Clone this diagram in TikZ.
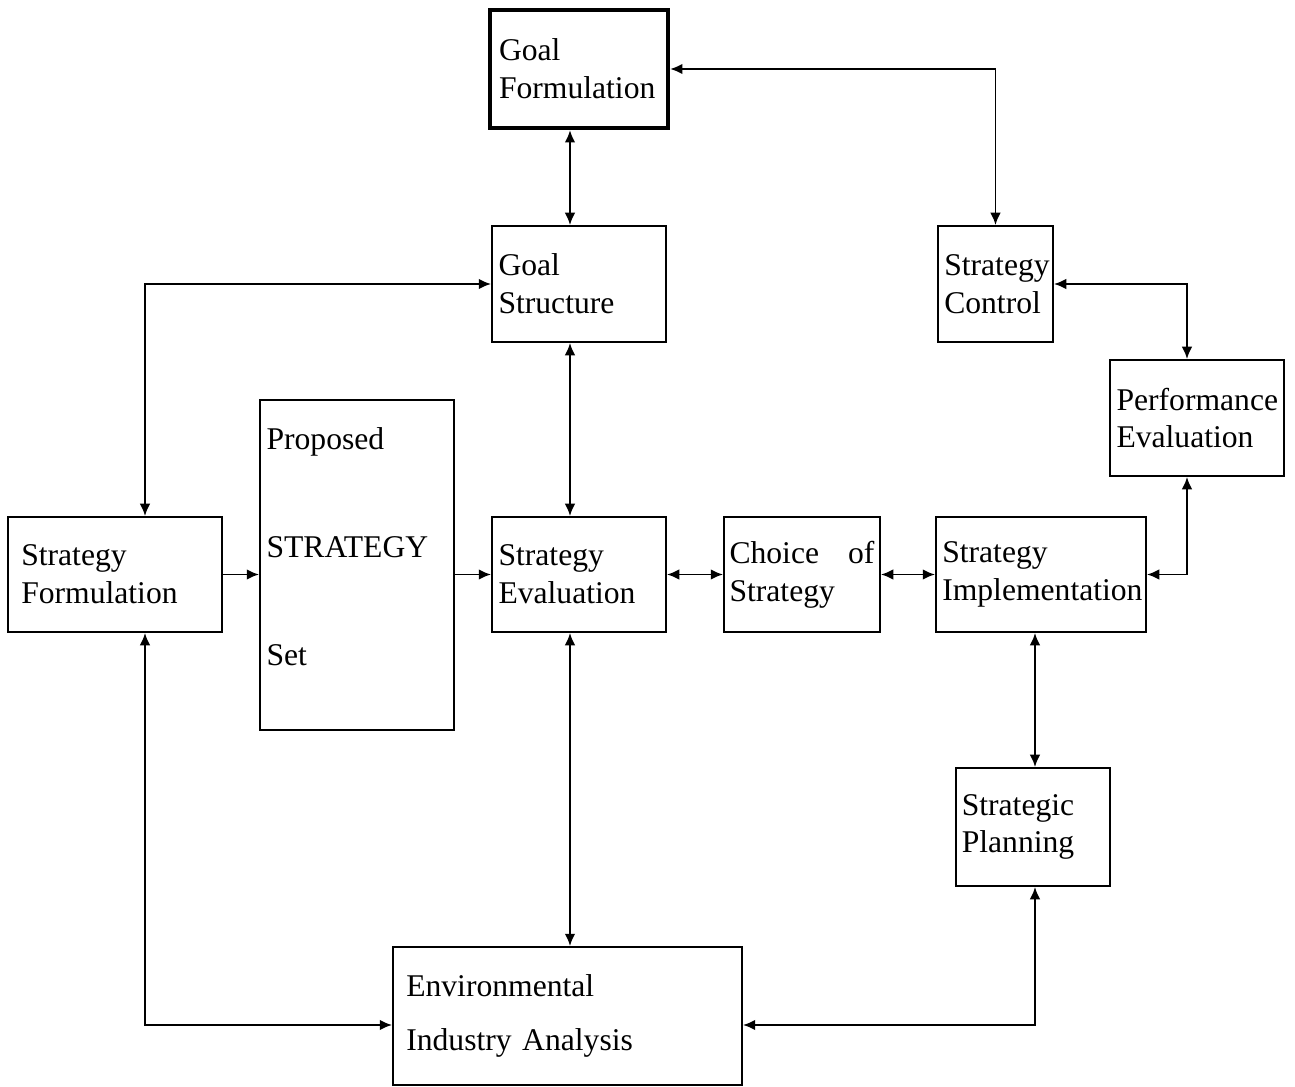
\documentclass[tikz,border=0pt]{standalone}
\usepackage{fontspec}
\setmainfont{Liberation Serif}
\usetikzlibrary{arrows.meta}
\tikzset{
	box/.style={draw,line width=1.1pt,inner xsep=3pt,align=left,font=\fontsize{18}{21.5}\selectfont},
	link/.style={line width=1.1pt,arrows={-Latex[length=7pt,width=6pt]}},
	both/.style={line width=1.1pt,arrows={Latex[length=7pt,width=6pt]-Latex[length=7pt,width=6pt]}}
}
\begin{document}
\begin{tikzpicture}[x=0.02cm,y=-0.02cm]
				\useasboundingbox (0,0) rectangle (1295,1087);
				% Boxes
				\node[box,line width=2.4pt,inner xsep=5pt,minimum width=3.56cm,minimum height=2.36cm,text width=3.2cm] (gf) at (579,69) {Goal\\Formulation};
				\node[box,minimum width=3.48cm,minimum height=2.32cm,text width=3.22cm] (gs) at (579,284) {Goal\\Structure};
				\node[box,minimum width=2.3cm,minimum height=2.32cm,text width=2.05cm] (sc) at (995.5,284) {Strategy\\Control};
				\node[box,minimum width=3.48cm,minimum height=2.32cm,text width=3.22cm] (pe) at (1197,418) {Performance\\Evaluation};
				\node[box,minimum width=3.88cm,minimum height=6.6cm,text width=3.62cm] (ps) at (357,565) {Proposed\\[40pt]STRATEGY\\[40pt]Set\\\mbox{}};
				\node[box,inner xsep=7pt,minimum width=4.28cm,minimum height=2.3cm,text width=3.75cm] (sf) at (115,574.5) {Strategy\\Formulation};
				\node[box,minimum width=3.48cm,minimum height=2.3cm,text width=3.22cm] (se) at (579,574.5) {Strategy\\Evaluation};
				\node[box,minimum width=3.12cm,minimum height=2.3cm,text width=2.9cm] (cs) at (802,574.5) {Choice\hfill of\\Strategy};
				\node[box,minimum width=4.2cm,minimum height=2.3cm,text width=3.95cm] (si) at (1041,574.5) {Strategy\\Implementation};
				\node[box,minimum width=3.08cm,minimum height=2.36cm,text width=2.85cm] (sp) at (1033,827) {Strategic\\Planning};
				\node[box,inner xsep=7pt,minimum width=6.98cm,minimum height=2.76cm,text width=6.45cm] (ea) at (567.5,1016) {Environmental\\[9pt]Industry Analysis};
				% Columns and row of the connectors
				\coordinate (colA) at (145,0);
				\coordinate (colB) at (570,0);
				\coordinate (colC) at (1035,0);
				\coordinate (colD) at (1187,0);
				\coordinate (rowE) at (0,1025);
				% Top loop
				\draw[both] (gf.east) -| (sc.north);
				\draw[both] (colB |- gf.south) -- (colB |- gs.north);
				\draw[both] (gs.west) -| (colA |- sf.north);
				\draw[both] (colB |- gs.south) -- (colB |- se.north);
				\draw[both] (sc.east) -| (colD |- pe.north);
				\draw[both] (colD |- pe.south) |- (si.east);
				% Middle row
				\draw[link] (sf.east) -- (ps.west |- sf.east);
				\draw[link] (ps.east |- se.west) -- (se.west);
				\draw[both] (se.east) -- (cs.west);
				\draw[both] (cs.east) -- (si.west);
				% Bottom loop
				\draw[both] (colC |- si.south) -- (colC |- sp.north);
				\draw[both] (colB |- se.south) -- (colB |- ea.north);
				\draw[both] (colA |- sf.south) |- (ea.west |- rowE);
				\draw[both] (colC |- sp.south) |- (ea.east |- rowE);
			\end{tikzpicture}
\end{document}
